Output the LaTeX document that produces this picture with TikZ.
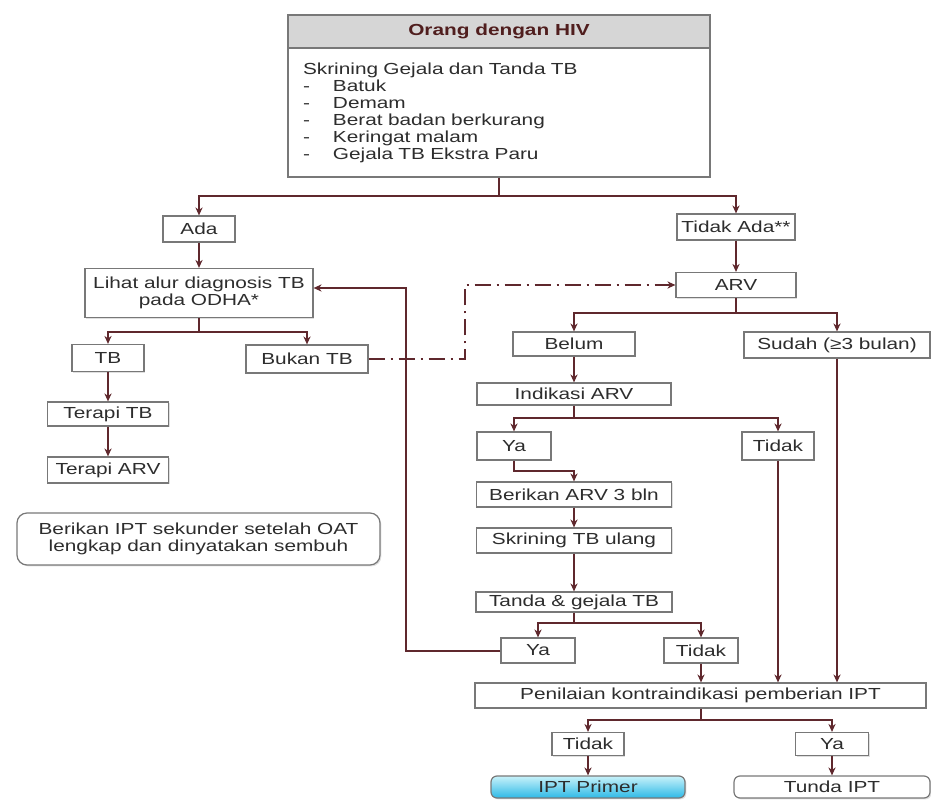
\documentclass[tikz,border=0pt]{standalone}
\usepackage{fontspec}
\setmainfont{Liberation Sans}[FakeStretch=1.3]
\usetikzlibrary{arrows.meta,shadows}
\definecolor{flowline}{RGB}{95,40,45}
\definecolor{boxline}{RGB}{120,120,120}
\definecolor{txt}{RGB}{45,45,45}
\definecolor{hivfill}{RGB}{214,214,214}
\definecolor{hivtext}{RGB}{80,30,30}
\definecolor{iptlight}{RGB}{200,242,250}
\definecolor{iptdark}{RGB}{45,185,230}

\begin{document}
\begin{tikzpicture}[x=0.5pt, y=-0.5pt,
    font=\fontsize{8}{8.5}\selectfont, text=txt,
    box/.style={draw=boxline, line width=0.6pt, fill=white, inner sep=1pt, align=center,
        drop shadow={shadow xshift=0.7pt, shadow yshift=-0.7pt, opacity=0.25}},
    arr/.style={draw=flowline, line width=1pt, -{Stealth[length=4pt, width=3.6pt]}},
    link/.style={draw=flowline, line width=1pt},
    dashdot/.style={dash pattern=on 8pt off 3pt on 1pt off 3pt}]
    \useasboundingbox (0,0) rectangle (931,801);

    % Orang dengan HIV
    \node[box, fill=hivfill, minimum width=211pt, minimum height=16.5pt,
        font=\fontsize{8}{8.5}\selectfont\bfseries, text=hivtext] (hiv) at (499,31.5) {Orang dengan HIV};
    \node[box, text width=196pt, inner xsep=7.5pt, minimum height=64.5pt, align=left] (skr) at (499,112.5)
        {Skrining Gejala dan Tanda TB\\
         \makebox[15pt][l]{-}Batuk\\
         \makebox[15pt][l]{-}Demam\\
         \makebox[15pt][l]{-}Berat badan berkurang\\
         \makebox[15pt][l]{-}Keringat malam\\
         \makebox[15pt][l]{-}Gejala TB Ekstra Paru};

    % Kiri: ada gejala
    \node[box, minimum width=36pt, minimum height=13pt] (ada) at (199,229) {Ada};
    \node[box, minimum width=114pt, minimum height=24.5pt] (lihat) at (199,293) {Lihat alur diagnosis TB\\pada ODHA*};
    \node[box, minimum width=36pt, minimum height=13.5pt] (tb) at (108,358) {TB};
    \node[box, minimum width=61pt, minimum height=14pt] (bukan) at (307,359) {Bukan TB};
    \node[box, minimum width=60.5pt, minimum height=12pt] (terapitb) at (108,414) {Terapi TB};
    \node[box, minimum width=60.5pt, minimum height=13pt] (terapiarv) at (108,470) {Terapi ARV};
    \node[box, rounded corners=5pt, minimum width=181.5pt, minimum height=26pt] (ipts) at (198.5,539)
        {Berikan IPT sekunder setelah OAT\\lengkap dan dinyatakan sembuh};

    % Kanan: tidak ada gejala
    \node[box, minimum width=59pt, minimum height=13pt] (tidakada) at (736,227) {Tidak Ada**};
    \node[box, minimum width=60pt, minimum height=12.5pt] (arv) at (736,285) {ARV};
    \node[box, minimum width=61pt, minimum height=12pt] (belum) at (574,344) {Belum};
    \node[box, minimum width=93pt, minimum height=13pt] (sudah) at (837,345) {Sudah (≥3 bulan)};
    \node[box, minimum width=97pt, minimum height=11pt] (indikasi) at (574,394) {Indikasi ARV};
    \node[box, minimum width=37pt, minimum height=14pt] (ya1) at (514,446) {Ya};
    \node[box, minimum width=36pt, minimum height=14pt] (tidak1) at (778,446) {Tidak};
    \node[box, minimum width=97.5pt, minimum height=12.5pt] (berikan) at (574,494.5) {Berikan ARV 3 bln};
    \node[box, minimum width=97.5pt, minimum height=12.5pt] (skrining) at (574,540.5) {Skrining TB ulang};
    \node[box, minimum width=98pt, minimum height=10pt] (tanda) at (574,602) {Tanda \& gejala TB};
    \node[box, minimum width=37pt, minimum height=12.5pt] (ya2) at (538,650.5) {Ya};
    \node[box, minimum width=37pt, minimum height=12.5pt] (tidak2) at (701,650.5) {Tidak};
    \node[box, minimum width=225.5pt, minimum height=12.5pt] (penilaian) at (700.5,695.5) {Penilaian kontraindikasi pemberian IPT};
    \node[box, minimum width=36pt, minimum height=11.5pt] (tidak3) at (588,744) {Tidak};
    \node[box, minimum width=36.5pt, minimum height=11.5pt] (ya3) at (832,744) {Ya};
    \node[box, rounded corners=3pt, top color=iptlight, bottom color=iptdark,
        minimum width=97pt, minimum height=11pt] (iptp) at (588,787) {IPT Primer};
    \node[box, rounded corners=3pt, minimum width=98pt, minimum height=11pt] (tunda) at (832,787) {Tunda IPT};

    % Konektor
    \coordinate (c1) at (499,196);
    \draw[link] (skr.south) -- (c1);
    \foreach \n in {ada,tidakada} \draw[arr] (c1) -| (\n.north);
    \draw[arr] (ada) -- (lihat);

    \coordinate (c2) at (199,332);
    \draw[link] (lihat.south) -- (c2);
    \foreach \n in {tb,bukan} \draw[arr] (c2) -| (\n.north);
    \draw[arr] (tb) -- (terapitb);
    \draw[arr] (terapitb) -- (terapiarv);

    % Bukan TB ke ARV
    \coordinate (c3) at (465,285);
    \draw[arr, dashdot] (bukan.east) -| (c3) -- (arv.west);

    \draw[arr] (tidakada) -- (arv);
    \coordinate (c4) at (736,313);
    \draw[link] (arv.south) -- (c4);
    \foreach \n in {belum,sudah} \draw[arr] (c4) -| (\n.north);
    \draw[arr] (belum) -- (indikasi);

    \coordinate (c5) at (574,418);
    \draw[link] (indikasi.south) -- (c5);
    \foreach \n in {ya1,tidak1} \draw[arr] (c5) -| (\n.north);
    \coordinate (c6) at (514,471);
    \draw[arr] (ya1.south) -- (c6) -| (berikan.north);
    \draw[arr] (berikan) -- (skrining);
    \draw[arr] (skrining) -- (tanda);

    \coordinate (c7) at (574,623);
    \draw[link] (tanda.south) -- (c7);
    \foreach \n in {ya2,tidak2} \draw[arr] (c7) -| (\n.north);

    % Ya: kembali ke alur diagnosis
    \coordinate (c8) at (406,288);
    \draw[arr] (ya2.west) -| (c8) -- (c8 -| lihat.east);

    \foreach \n in {tidak2,tidak1,sudah} \draw[arr] (\n.south) -- (\n.south |- penilaian.north);

    \coordinate (c9) at (701,720);
    \draw[link] (c9 |- penilaian.south) -- (c9);
    \foreach \n in {tidak3,ya3} \draw[arr] (c9) -| (\n.north);
    \draw[arr] (tidak3) -- (iptp);
    \draw[arr] (ya3) -- (tunda);
\end{tikzpicture}
\end{document}
